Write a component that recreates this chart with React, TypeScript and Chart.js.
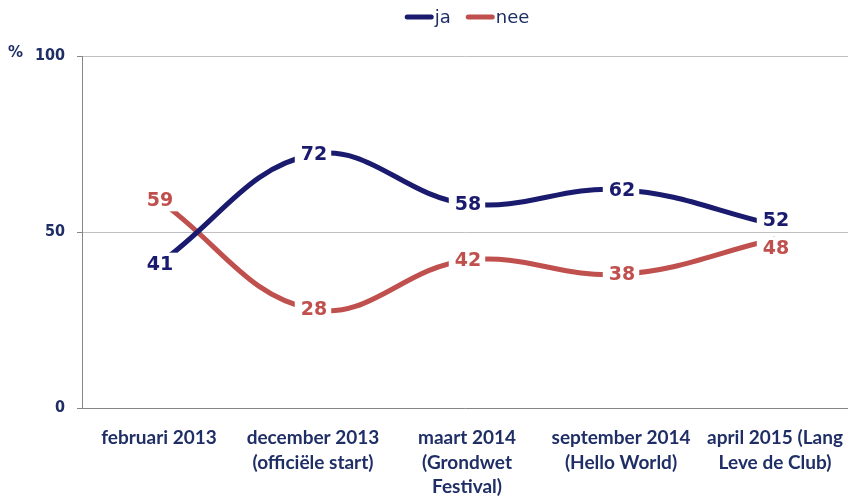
import React, { useEffect, useRef } from "react";
import { Chart, registerables } from "chart.js";

Chart.register(...registerables);

const categories: string[][] = [
  ["februari 2013"],
  ["december 2013", "(officiële start)"],
  ["maart 2014", "(Grondwet", "Festival)"],
  ["september 2014", "(Hello World)"],
  ["april 2015 (Lang", "Leve de Club)"],
];
const seriesNames = ["ja", "nee"];
const jaValues = [41, 72, 58, 62, 52];
const neeValues = [59, 28, 42, 38, 48];
const yTicks = [0, 50, 100];
const yUnit = "%";

const NAVY = "#1a1a6e";
const RED = "#c0504d";
const TEXT = "#1f2f66";
const NUM_FONT = "'DejaVu Sans', Verdana, sans-serif";
const TICK_FONT = "'DejaVu Sans Condensed', 'DejaVu Sans', Verdana, sans-serif";
const CAT_FONT = "Lato, 'Open Sans', sans-serif";

const labelsPlugin = {
  id: "valueLabels",
  afterDatasetsDraw(chart: any) {
    const ctx = chart.ctx;
    ctx.save();
    ctx.font = `bold 19px ${NUM_FONT}`;
    ctx.textAlign = "center";
    ctx.textBaseline = "middle";
    const metas = chart.data.datasets.map((_: any, di: number) => chart.getDatasetMeta(di));
    const n = metas[0].data.length;
    const minSep = 28;
    for (let i = 0; i < n; i++) {
      const items = chart.data.datasets.map((ds: any, di: number) => ({
        ds,
        x: metas[di].data[i].x,
        y: metas[di].data[i].y,
        txt: String(ds.data[i].y),
      }));
      // simple collision avoidance between the labels at one category
      if (items.length === 2) {
        const d = Math.abs(items[0].y - items[1].y);
        if (d < minSep) {
          const mid = (items[0].y + items[1].y) / 2 + 2;
          const up = items[0].y <= items[1].y ? 0 : 1;
          items[up].y = mid - minSep / 2;
          items[1 - up].y = mid + minSep / 2;
        }
      }
      items.forEach((it: any) => {
        const w = ctx.measureText(it.txt).width;
        ctx.fillStyle = "#ffffff";
        ctx.fillRect(it.x - w / 2 - 5, it.y - 11, w + 10, 22);
        ctx.fillStyle = it.ds.borderColor;
        ctx.fillText(it.txt, it.x + 1, it.y + 1);
      });
    }
    ctx.restore();
  },
};

const legendPlugin = {
  id: "customLegend",
  afterDraw(chart: any) {
    const ctx = chart.ctx;
    const area = chart.chartArea;
    ctx.save();
    ctx.font = `18px ${NUM_FONT}`;
    ctx.textBaseline = "middle";
    const lineW = 29;
    const gapText = 1;
    const gapItem = 15;
    const items = chart.data.datasets.map((ds: any) => ({
      label: ds.label,
      color: ds.borderColor,
      w: lineW + gapText + ctx.measureText(ds.label).width,
    }));
    const total = items.reduce((s: number, it: any) => s + it.w, 0) + gapItem * (items.length - 1);
    let x = (area.left + area.right) / 2 - total / 2 + 2;
    const y = 17;
    items.forEach((it: any) => {
      ctx.strokeStyle = it.color;
      ctx.lineWidth = 5;
      ctx.lineCap = "round";
      ctx.beginPath();
      ctx.moveTo(x + 2.5, y);
      ctx.lineTo(x + lineW - 2.5, y);
      ctx.stroke();
      ctx.fillStyle = TEXT;
      ctx.textAlign = "left";
      ctx.fillText(it.label, x + lineW + gapText, y + 1);
      x += it.w + gapItem;
    });
    // unit label
    const yScale = chart.scales.y;
    ctx.font = `bold 15px ${NUM_FONT}`;
    ctx.fillStyle = TEXT;
    ctx.textAlign = "left";
    ctx.fillText(yUnit, 8, yScale.getPixelForValue(yTicks[yTicks.length - 1]) - 3);
    ctx.restore();
  },
};

export default function App() {
  const ref = useRef<HTMLCanvasElement | null>(null);
  useEffect(() => {
    if (!ref.current) return;
    const chart = new Chart(ref.current, {
      type: "line",
      data: {
        datasets: [
          {
            label: seriesNames[0],
            data: jaValues.map((v, i) => ({ x: i, y: v })),
            borderColor: NAVY,
            backgroundColor: NAVY,
            borderWidth: 5,
            tension: 0.4,
            pointRadius: 0,
            fill: false,
          },
          {
            label: seriesNames[1],
            data: neeValues.map((v, i) => ({ x: i, y: v })),
            borderColor: RED,
            backgroundColor: RED,
            borderWidth: 5,
            tension: 0.4,
            pointRadius: 0,
            fill: false,
          },
        ],
      },
      options: {
        responsive: false,
        animation: false,
        events: [],
        layout: { padding: { top: 56, right: 0, bottom: 0, left: 0 } },
        plugins: {
          legend: { display: false },
          tooltip: { enabled: false },
        },
        scales: {
          x: {
            type: "linear",
            min: -0.5,
            max: 4.474,
            afterBuildTicks: (scale: any) => {
              scale.ticks = categories.map((_, i) => ({ value: i }));
            },
            afterFit: (scale: any) => {
              scale.height = 88;
              scale.paddingLeft = 0;
              scale.paddingRight = 0;
            },
            grid: { display: true, drawOnChartArea: false, drawTicks: false },
            border: { display: true, color: "#868686", width: 1 },
            ticks: {
              autoSkip: false,
              maxRotation: 0,
              padding: 18,
              color: TEXT,
              font: { family: CAT_FONT, size: 19, weight: "bold", lineHeight: 1.29 },
              callback: (v: any) => categories[v as number] ?? "",
            },
          },
          y: {
            min: 0,
            max: 100,
            afterBuildTicks: (scale: any) => {
              scale.ticks = yTicks.map((v) => ({ value: v }));
            },
            afterFit: (scale: any) => {
              scale.width = 82;
            },
            grid: {
              color: (c: any) => (c.tick && c.tick.value === 0 ? "rgba(0,0,0,0)" : "#c0c0c0"),
              tickColor: "#868686",
              tickLength: 5,
              lineWidth: 1,
            },
            border: { display: true, color: "#868686", width: 1 },
            ticks: {
              padding: 12,
              color: TEXT,
              font: { family: TICK_FONT, size: 16, weight: "bold" },
            },
          },
        },
      },
      plugins: [labelsPlugin, legendPlugin],
    } as any);
    return () => chart.destroy();
  }, []);
  return (
    <div style={{ position: "absolute", left: 0, top: 0, width: 848, height: 496, background: "#fff" }}>
      <canvas ref={ref} width={848} height={496} style={{ display: "block" }} />
    </div>
  );
}
